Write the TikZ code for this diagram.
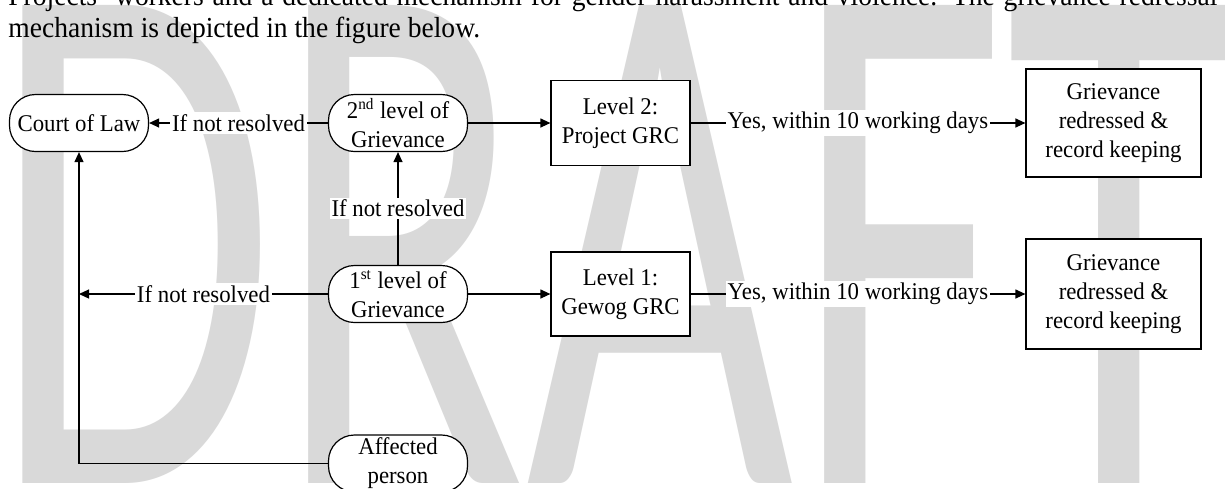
\documentclass[tikz,border=0pt]{standalone}
\usepackage{fontspec}
\setmainfont{Liberation Serif}[FakeStretch=0.95]
\newfontfamily\wmfont{Carlito}
\usetikzlibrary{arrows.meta}
\definecolor{wm}{RGB}{217,217,217}
\newcommand\nodefont{\fontsize{12pt}{14.5pt}\selectfont}
\newcommand\bodyfont{\fontsize{14.5pt}{16pt}\selectfont}
\tikzset{
  pill/.style={draw, fill=white, line width=0.6pt, rounded corners=13pt, minimum width=69.5pt,
    minimum height=28.5pt, align=center, inner sep=1pt, font=\nodefont},
  boxnode/.style={draw, fill=white, line width=0.6pt, align=center, inner sep=1pt, font=\nodefont},
  lbl/.style={fill=white, inner sep=1pt, font=\nodefont},
  conn/.style={line width=0.6pt},
  arr/.style={conn, -{Triangle[length=5pt,width=4.5pt]}},
  bodytext/.style={anchor=base west, inner sep=0pt, font=\bodyfont},
}
\begin{document}
\begin{tikzpicture}[x=0.5pt, y=-0.5pt]
\useasboundingbox (0,0) rectangle (1225,488);
\clip (0,0) rectangle (1225,488);
\fill[white] (0,0) rectangle (1225,488);
% watermark
\node[anchor=base west, inner sep=0pt, text=wm] (wmark) at (-9,483)
  {\scalebox{0.62}[1]{\wmfont\fontsize{372.6pt}{372.6pt}\selectfont DRAFT}};
% surrounding body text
\node[bodytext] (line1) at (8,5)
  {\hbox to 604.5pt{Projects' workers and a dedicated mechanism for gender harassment and violence. The grievance redressal}};
\node[bodytext] (line2) at (8,37) {mechanism is depicted in the figure below.};
% nodes
\node[pill] (court) at (79,123) {Court of Law};
\node[pill] (lvl2g) at (398,123) {2\textsuperscript{nd} level of\\Grievance};
\node[pill] (lvl1g) at (398,294) {1\textsuperscript{st} level of\\Grievance};
\node[pill] (aff) at (398,463.5) {Affected\\person};
\node[boxnode, minimum width=69.5pt, minimum height=42.5pt] (l2) at (620.5,123) {Level 2:\\Project GRC};
\node[boxnode, minimum width=69.5pt, minimum height=42pt] (l1) at (620.5,294) {Level 1:\\Gewog GRC};
\node[boxnode, minimum width=87.5pt, minimum height=54pt] (g2) at (1113.5,123) {Grievance\\redressed \&\\record keeping};
\node[boxnode, minimum width=87.5pt, minimum height=55pt] (g1) at (1113.5,294) {Grievance\\redressed \&\\record keeping};
% connectors
\draw[arr] (lvl2g) -- node[lbl] {If not resolved} (court);
\draw[arr] (lvl2g) -- (l2);
\draw[arr] (l2) -- node[lbl] {Yes, within 10 working days} (g2);
\draw[arr] (lvl1g) -- node[lbl] {If not resolved} (lvl2g);
\draw[arr] (lvl1g) -- (l1);
\draw[arr] (l1) -- node[lbl] {Yes, within 10 working days} (g1);
\coordinate (corner) at (court.south |- aff.west);
\coordinate (mid) at (court.south |- lvl1g.west);
\draw[arr] (lvl1g.west) -- node[lbl] {If not resolved} (mid);
\draw[arr] (aff.west) -- (corner) -- (court.south);
\end{tikzpicture}
\end{document}
